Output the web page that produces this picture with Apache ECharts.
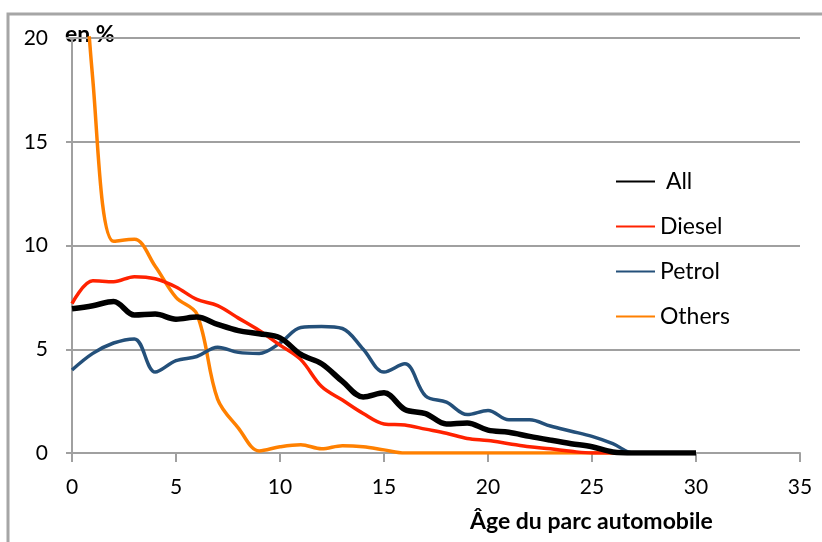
<!DOCTYPE html>
<html>
<head>
<meta charset="utf-8">
<script src="https://cdn.jsdelivr.net/npm/echarts@6/dist/echarts.min.js"></script>
<style>
  html, body { margin: 0; padding: 0; background: #fff; }
  #chart { width: 822px; height: 542px; }
</style>
</head>
<body>
<div id="chart"></div>
<script>
// âge du véhicule (années)
var ages = [];
for (var a = 0; a <= 30; a++) ages.push(a);

// parts en %
var allValues = [6.95, 7.1, 7.3, 6.65, 6.7, 6.45, 6.55, 6.2, 5.9, 5.75, 5.55, 4.75, 4.3, 3.45, 2.7, 2.9,
  2.1, 1.9, 1.4, 1.45, 1.1, 1.0, 0.8, 0.62, 0.45, 0.3, 0.05, 0, 0, 0, 0];
var dieselValues = [7.2, 8.3, 8.25, 8.5, 8.4, 8.0, 7.4, 7.1, 6.5, 5.9, 5.2, 4.5, 3.2, 2.55, 1.9, 1.4,
  1.35, 1.15, 0.95, 0.7, 0.6, 0.45, 0.3, 0.2, 0.08, 0, 0, 0, 0, 0, 0];
var petrolValues = [4.0, 4.8, 5.3, 5.5, 3.9, 4.45, 4.65, 5.1, 4.85, 4.8, 5.3, 6.05, 6.1, 6.0, 5.0, 3.9,
  4.3, 2.75, 2.45, 1.85, 2.05, 1.6, 1.6, 1.3, 1.05, 0.8, 0.45, 0, 0, 0, 0];
var othersValues = [33, 18, 10.2, 10.3, 9.0, 7.5, 6.7, 2.6, 1.2, 0.1, 0.3, 0.4, 0.2, 0.35, 0.3, 0.15,
  0, 0, 0, 0, 0, 0, 0, 0, 0, 0, 0, 0, 0, 0, 0];

var xTicks = [0, 5, 10, 15, 20, 25, 30, 35];
var yTicks = [0, 5, 10, 15, 20];

function pairs(vals) {
  return ages.map(function (x, i) { return [x, vals[i]]; });
}

var font = "Lato, 'Open Sans', sans-serif";
var myChart = echarts.init(document.getElementById("chart"));

var option = {
  animation: false,
  grid: { left: 72, right: 22, top: 38, bottom: 89 },
  legend: {
    orient: "vertical",
    left: 615,
    top: 170,
    padding: 0,
    itemWidth: 39,
    itemHeight: 14,
    itemGap: 22,
    itemStyle: { opacity: 0 }, // pas de symbole, seulement le trait
    textStyle: { fontFamily: font, fontSize: 23, color: "#000" },
    formatter: function (n) { return n === "All" ? " " + n : n; },
    data: ["All", "Diesel", "Petrol", "Others"]
  },
  graphic: [
    {
      type: "rect",
      shape: { x: 8, y: 14, width: 900, height: 600 },
      style: { fill: "none", stroke: "#a6a6a6", lineWidth: 3 }
    },
    {
      type: "text",
      x: 65,
      y: 35,
      style: { text: "en %", fontFamily: font, fontWeight: "bold", fontSize: 23, fill: "#000", verticalAlign: "middle" }
    },
    {
      type: "text",
      x: 470,
      y: 522,
      style: { text: "Âge du parc automobile", fontFamily: font, fontWeight: "bold", fontSize: 23, fill: "#000", verticalAlign: "middle" }
    }
  ],
  xAxis: {
    type: "value",
    min: 0,
    max: 35,
    interval: 5,
    axisLine: { show: true, lineStyle: { color: "#a0a0a0", width: 2 } },
    axisTick: { show: true, length: 9, lineStyle: { color: "#a0a0a0", width: 2 } },
    splitLine: { show: false },
    axisLabel: {
      margin: 24,
      fontFamily: font,
      fontSize: 21,
      color: "#000",
      customValues: xTicks
    }
  },
  yAxis: {
    type: "value",
    min: 0,
    max: 20,
    interval: 5,
    axisLine: { show: true, lineStyle: { color: "#a0a0a0", width: 2 } },
    axisTick: { show: true, length: 6, lineStyle: { color: "#a0a0a0", width: 2 } },
    splitLine: { show: true, lineStyle: { color: "#a0a0a0", width: 2 } },
    axisLabel: {
      margin: 24,
      fontFamily: font,
      fontSize: 21,
      color: "#000",
      customValues: yTicks
    }
  },
  series: [
    {
      name: "Others",
      type: "line",
      smooth: 0.35,
      symbol: "none",
      clip: true,
      z: 2,
      lineStyle: { color: "#ff8000", width: 3.5 },
      itemStyle: { color: "#ff8000" },
      data: pairs(othersValues)
    },
    {
      name: "Petrol",
      type: "line",
      smooth: 0.35,
      symbol: "none",
      z: 3,
      lineStyle: { color: "#24507a", width: 3.5 },
      itemStyle: { color: "#24507a" },
      data: pairs(petrolValues)
    },
    {
      name: "Diesel",
      type: "line",
      smooth: 0.35,
      symbol: "none",
      z: 4,
      lineStyle: { color: "#ff2200", width: 3.5 },
      itemStyle: { color: "#ff2200" },
      data: pairs(dieselValues)
    },
    {
      name: "All",
      type: "line",
      smooth: 0.35,
      symbol: "none",
      z: 5,
      lineStyle: { color: "#000", width: 5.5 },
      itemStyle: { color: "#000" },
      data: pairs(allValues)
    }
  ]
};

myChart.setOption(option);
</script>
</body>
</html>
